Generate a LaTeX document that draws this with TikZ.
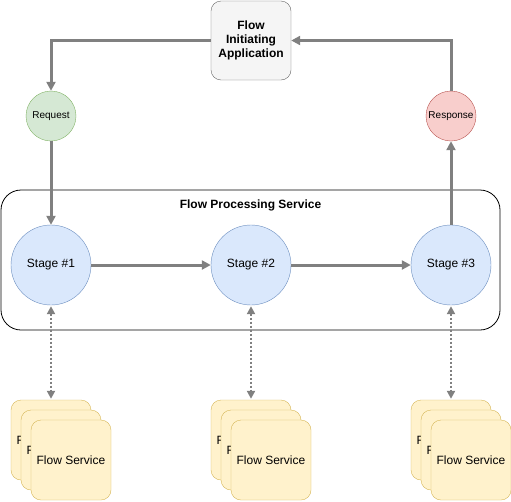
\documentclass[tikz,border=0pt]{standalone}
\usepackage{fontspec}
\setmainfont{Liberation Sans}
\usetikzlibrary{arrows.meta}
\definecolor{grayln}{HTML}{808080}
\definecolor{appfill}{HTML}{F5F5F5}
\definecolor{appdraw}{HTML}{666666}
\definecolor{reqfill}{HTML}{D5E8D4}
\definecolor{reqdraw}{HTML}{82B366}
\definecolor{resfill}{HTML}{F8CECC}
\definecolor{resdraw}{HTML}{B85450}
\definecolor{stfill}{HTML}{DAE8FC}
\definecolor{stdraw}{HTML}{6C8EBF}
\definecolor{fsfill}{HTML}{FFF2CC}
\definecolor{fsdraw}{HTML}{D6B656}
\tikzset{
  x=1pt, y=-1pt,
  every node/.style={font=\fontsize{12}{14}\selectfont},
  appbox/.style={draw=appdraw, fill=appfill, rounded corners=10pt, minimum width=80pt, minimum height=79pt, align=center, font=\fontsize{12}{14}\selectfont\bfseries, inner sep=0pt},
  smallcirc/.style={circle, minimum size=50pt, inner sep=0pt, font=\fontsize{10}{12}\selectfont},
  stagecirc/.style={circle, draw=stdraw, fill=stfill, minimum size=80pt, inner sep=0pt},
  fsbox/.style={draw=fsdraw, fill=fsfill, rounded corners=10pt, minimum width=80pt, minimum height=80pt, inner sep=0pt},
  flowarrow/.style={draw=grayln, line width=3pt, -{Triangle[length=9pt,width=9pt]}},
  dotarrow/.style={draw=grayln, line width=2pt, dotted, {Triangle[length=8pt,width=8pt]}-{Triangle[length=8pt,width=8pt]}, shorten <=1pt, shorten >=1pt},
}
\begin{document}
\begin{tikzpicture}
\useasboundingbox (0,0) rectangle (511,501);
% container
\draw[rounded corners=20pt, line width=0.8pt] (1,190) rectangle (500,330);
\node[font=\fontsize{12}{14}\selectfont\bfseries] (fps) at (250.5,205) {Flow Processing Service};
% app
\node[appbox] (app) at (251,40.5) {Flow\\Initiating\\Application};
% request / response
\node[smallcirc, draw=reqdraw, fill=reqfill] (req) at (51,116) {Request};
\node[smallcirc, draw=resdraw, fill=resfill] (res) at (451,116) {Response};
% stages
\node[stagecirc] (s1) at (51,265) {Stage \#1};
\node[stagecirc] (s2) at (251,265) {Stage \#2};
\node[stagecirc] (s3) at (451,265) {Stage \#3};
% flow service stacks
\foreach \c/\n in {0/a,200/b,400/c}{
  \node[fsbox] (\n1) at (51+\c,440) {Flow Service};
  \node[fsbox] (\n2) at (61+\c,450) {Flow Service};
  \node[fsbox] (\n3) at (71+\c,460) {Flow Service};
}
% connectors
\draw[flowarrow] (app.west) -| (req.north);
\draw[flowarrow] (req.south) -- (s1.north);
\draw[flowarrow] (s1.east) -- (s2.west);
\draw[flowarrow] (s2.east) -- (s3.west);
\draw[flowarrow] (s3.north) -- (res.south);
\draw[flowarrow] (res.north) |- (app.east);
\draw[dotarrow] (s1.south) -- (a1.north);
\draw[dotarrow] (s2.south) -- (b1.north);
\draw[dotarrow] (s3.south) -- (c1.north);
\end{tikzpicture}
\end{document}
